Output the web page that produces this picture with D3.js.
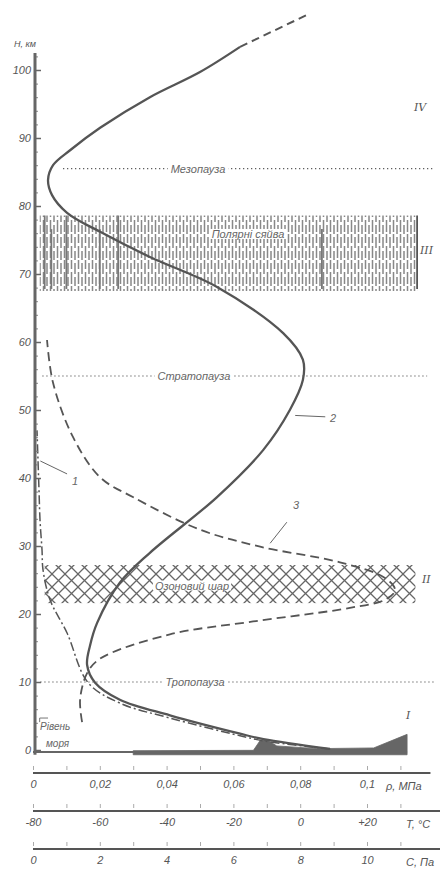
<!DOCTYPE html>
<html>
<head>
<meta charset="utf-8">
<script src="https://cdn.jsdelivr.net/npm/d3@7"></script>
<style>
  body { margin: 0; background: #fff; }
  svg text { font-family: "Liberation Sans", "DejaVu Sans", sans-serif; fill: #666; }
  .axis text { font-style: italic; font-size: 11px; fill: #555; }
</style>
</head>
<body>
<div id="viz"></div>
<script>
// height ticks, km
var kmTicks = d3.range(0, 101, 10);
// bottom scales
var pTicks = [0, 0.02, 0.04, 0.06, 0.08, 0.1],
    pLabels = ["0", "0,02", "0,04", "0,06", "0,08", "0,1"];
var tTicks = [-80, -60, -40, -20, 0, 20],
    tLabels = ["-80", "-60", "-40", "-20", "0", "+20"];
var cTicks = [0, 2, 4, 6, 8, 10],
    cLabels = ["0", "2", "4", "6", "8", "10"];

// curve 2 - temperature [T degC, H km]
var tempCurve = [[8.9,0.15],[-11,1.6],[-18,2.4],[-39,5.1],[-54,7.4],[-61.4,9.9],[-63.8,12.5],
  [-62.9,15.4],[-60.8,18.7],[-54,24.6],[-45,29],[-24.9,37.2],[-11.1,44.1],[-3.1,50],
  [0.8,54.4],[0.8,57.4],[-5.1,61.3],[-24.9,68.1],[-45,72.5],[-59.9,76.2],[-69.8,79],
  [-74.3,81.6],[-75.5,83.8],[-74,86],[-68.9,88.2],[-59.9,91.5],[-45,96],[-30,99.7],[-18,103.4]];
var tempCurveExt = [[-18,103.4],[2,108.1]];

// curve 1 - pressure [p MPa, H km]
var presCurve = [[0.089,0.15],[0.0695,1.3],[0.062,2.1],[0.041,4.7],[0.026,6.9],[0.0165,9.9],
  [0.0102,17.2],[0.0051,22.1],[0.003,26.5],[0.0027,29.4],[0.0021,33.8],[0.0018,38.2],
  [0.0015,42.6],[0.0012,47]];

// curve 3 - ozone [C, H km]
var ozoneCurve = [[1.47,4.1],[1.41,7.4],[1.62,11.3],[2.0,13.4],[4.1,17.0],[6.59,18.9],
  [9.49,20.9],[10.54,22.1],[10.84,23.5],[10.54,25.3],[9.19,27.6],[6.8,29.9],[5.0,32.4],
  [2.99,37.2],[2.01,40.1],[1.2,46],[0.6,54],[0.42,60.3]];

// layer boundaries
var pauseNames = ["Тропопауза", "Стратопауза", "Мезопауза"],
    pauseKm = [10, 55, 85.5];

// bands [from km, to km]
var auroraKm = [67.5, 78.6],
    ozoneKm = [21.6, 27.2];

// regions
var regionNames = ["I", "II", "III", "IV"],
    regionKm = [4.5, 24.5, 73, 94];

// ground profile [C-units, H km]
var groundTop = [[3.0,-0.1],[6.6,-0.05],[6.8,1.4],[7.0,1.5],[7.3,0.6],[8.5,0.2],[10.2,0.3],[11.2,2.3]];

var svg = d3.select("#viz").append("svg")
    .attr("width", 440).attr("height", 871);

var y = d3.scaleLinear().domain([0, 102.5]).range([750, 53]),
    xP = d3.scaleLinear().domain([0, 0.1]).range([33, 367]),
    xT = d3.scaleLinear().domain([-80, 20]).range([33, 367]),
    xC = d3.scaleLinear().domain([0, 10]).range([33, 367]);

// white box behind a label, placed right under it
function backing(t, padX, padY) {
  var b = t.node().getBBox();
  svg.insert("rect", function() { return t.node(); })
     .attr("x", b.x - padX).attr("y", b.y + padY)
     .attr("width", b.width + 2 * padX).attr("height", b.height - 2 * padY)
     .attr("fill", "#fff");
}

var defs = svg.append("defs");
var aur = defs.append("pattern").attr("id", "aur")
    .attr("patternUnits", "userSpaceOnUse").attr("width", 7).attr("height", 26);
aur.append("path").attr("d", "M1.5,0V9M1.5,12V24M5,3V14M5,17V26")
    .attr("stroke", "#888").attr("stroke-width", 1.5);
var oz = defs.append("pattern").attr("id", "oz")
    .attr("patternUnits", "userSpaceOnUse").attr("width", 13).attr("height", 13)
    .attr("y", 2);
oz.append("path").attr("d", "M0,0L13,13M13,0L0,13")
    .attr("stroke", "#666").attr("stroke-width", 1.3);

// aurora band
svg.append("rect")
   .attr("x", xT(-78)).attr("width", xT(35) - xT(-78))
   .attr("y", y(auroraKm[1])).attr("height", y(auroraKm[0]) - y(auroraKm[1]))
   .attr("fill", "url(#aur)");
var longLines = [-76.5, -74.5, -70, -60, -54.5, 6.5, 35];
svg.selectAll(".aurl").data(longLines).enter().append("line")
   .attr("x1", function(d) { return xT(d); }).attr("x2", function(d) { return xT(d); })
   .attr("y1", function(d, i) { return y(auroraKm[1] - (i % 2) * 2); })
   .attr("y2", y(auroraKm[0] + 0.3))
   .attr("stroke", function(d, i) { return i == longLines.length - 1 ? "#555" : "#777"; })
   .attr("stroke-width", 1.8);
var auroraLabel = svg.append("text")
   .attr("x", 248).attr("y", y(75.3)).attr("text-anchor", "middle")
   .style("font-style", "italic").style("font-size", "11px")
   .text("Полярні сяйва");
backing(auroraLabel, 2, 1);

// ozone band
svg.append("rect")
   .attr("x", xT(-76.5)).attr("width", xT(34.5) - xT(-76.5))
   .attr("y", y(ozoneKm[1])).attr("height", y(ozoneKm[0]) - y(ozoneKm[1]))
   .attr("fill", "url(#oz)");
var ozLabel = svg.append("text")
   .attr("x", 192).attr("y", y(23.6)).attr("text-anchor", "middle")
   .style("font-style", "italic").style("font-size", "11px")
   .text("Озоновий шар");
backing(ozLabel, 2, 1);

// pause lines
var pauseX = [[-77.8, 40], [-77.2, 38], [-71, 40]],
    pauseLabelX = [195, 194, 198];
pauseKm.forEach(function(k, i) {
  svg.append("line")
     .attr("x1", xT(pauseX[i][0])).attr("x2", xT(pauseX[i][1]))
     .attr("y1", y(k)).attr("y2", y(k))
     .attr("stroke", "#555").attr("stroke-width", 1.1)
     .attr("stroke-dasharray", "1.2,2.8");
  var t = svg.append("text").attr("x", pauseLabelX[i]).attr("y", y(k) + 4)
     .attr("text-anchor", "middle")
     .style("font-style", "italic").style("font-size", "11px")
     .text(pauseNames[i]);
  backing(t, 3, 0);
});

// ground
var groundPoly = groundTop.concat([[11.2, -0.7], [3.0, -0.7]]);
svg.append("path")
   .attr("d", d3.line().x(function(d) { return xC(d[0]); }).y(function(d) { return y(d[1]); })(groundPoly) + "Z")
   .attr("fill", "#666").attr("stroke", "#666").attr("stroke-width", 0.8);
svg.append("line")
   .attr("x1", xC(0)).attr("x2", xC(11.2)).attr("y1", y(-0.3)).attr("y2", y(-0.3))
   .attr("stroke", "#666").attr("stroke-width", 2);

// curves
var tLine = d3.line().curve(d3.curveCatmullRom)
    .x(function(d) { return xT(d[0]); }).y(function(d) { return y(d[1]); });
var pLine = d3.line().curve(d3.curveCatmullRom)
    .x(function(d) { return xP(d[0]); }).y(function(d) { return y(d[1]); });
var cLine = d3.line().curve(d3.curveCatmullRom)
    .x(function(d) { return xC(d[0]); }).y(function(d) { return y(d[1]); });

svg.append("path").attr("d", pLine(presCurve))
   .attr("fill", "none").attr("stroke", "#555").attr("stroke-width", 1.5)
   .attr("stroke-dasharray", "9,3,2,3");
svg.append("path").attr("d", cLine(ozoneCurve))
   .attr("fill", "none").attr("stroke", "#555").attr("stroke-width", 1.8)
   .attr("stroke-dasharray", "9,5");
svg.append("path").attr("d", tLine(tempCurve))
   .attr("fill", "none").attr("stroke", "#555").attr("stroke-width", 2.3);
svg.append("path").attr("d", tLine(tempCurveExt))
   .attr("fill", "none").attr("stroke", "#555").attr("stroke-width", 2)
   .attr("stroke-dasharray", "8,5");

// curve labels with leaders
function leader(x1, y1, x2, y2, txt, tx, ty) {
  svg.append("line").attr("x1", x1).attr("y1", y1).attr("x2", x2).attr("y2", y2)
     .attr("stroke", "#666").attr("stroke-width", 1);
  svg.append("text").attr("x", tx).attr("y", ty)
     .style("font-style", "italic").style("font-size", "11px").text(txt);
}
leader(xT(-1.5), y(49.2), xT(7.5), y(49), "2", 330, y(48.2));
leader(xC(7.1), y(30.4), xC(7.6), y(33.5), "3", 293, y(35.5));
leader(xP(0.0022), y(42.5), xP(0.0102), y(40.6), "1", 72, y(39));

// regions
regionNames.forEach(function(r, i) {
  svg.append("text").attr("x", [406, 422, 420, 414][i]).attr("y", y(regionKm[i]))
     .style("font-family", "DejaVu Serif").style("font-style", "italic")
     .style("font-size", "11px").style("fill", "#555").text(r);
});

// sea level label
svg.append("path").attr("d", "M" + (xC(0.2)) + "," + (y(4.7)) + "V" + y(4.1) + "M" + xC(0.2) + "," + y(4.7) + "H" + xC(0.45))
   .attr("stroke", "#777").attr("fill", "none");
svg.append("text").attr("x", 40).attr("y", y(2.9))
   .style("font-style", "italic").style("font-size", "10px").text("Рівень");
svg.append("text").attr("x", 46).attr("y", y(0.4))
   .style("font-style", "italic").style("font-size", "10px").text("моря");

// left axis
var yAxisG = svg.append("g").attr("class", "axis")
   .attr("transform", "translate(35,0)")
   .call(d3.axisLeft(y).tickValues(kmTicks).tickSize(0).tickPadding(4));
yAxisG.select(".domain").remove();
var yMinor = svg.append("g").attr("transform", "translate(35,0)")
   .call(d3.axisRight(y).tickValues(d3.range(0, 103, 2)).tickSize(3).tickFormat(""));
yMinor.select(".domain").remove();
yMinor.selectAll("line").attr("stroke", "#888");
var yMajor = svg.append("g").attr("transform", "translate(35,0)")
   .call(d3.axisRight(y).tickValues(kmTicks).tickSize(6).tickFormat(""));
yMajor.select(".domain").remove();
yMajor.selectAll("line").attr("stroke", "#666").attr("stroke-width", 1.5);
svg.append("line").attr("x1", 35).attr("x2", 35)
   .attr("y1", y(102.5)).attr("y2", y(-0.7))
   .attr("stroke", "#666").attr("stroke-width", 3);
svg.append("text").attr("x", 14).attr("y", 47)
   .style("font-style", "italic").style("font-size", "9px").style("fill", "#555")
   .text("H, км");

// bottom axes
function bottomAxis(scale, ticks, labels, yPos, endVal, unit, unitX) {
  var g = svg.append("g").attr("class", "axis")
     .attr("transform", "translate(0," + yPos + ")")
     .call(d3.axisBottom(scale).tickValues(ticks).tickSize(0).tickPadding(7)
           .tickFormat(function(d, i) { return labels[i]; }));
  g.select(".domain").remove();
  var step = ticks[1] - ticks[0];
  var minor = d3.range(0, 12).map(function(i) { return ticks[0] + i * step / 2; });
  var m = svg.append("g").attr("transform", "translate(0," + yPos + ")")
     .call(d3.axisBottom(scale).tickValues(minor).tickSize(-4).tickFormat(""));
  m.select(".domain").remove();
  m.selectAll("line").attr("stroke", "#aaa").attr("transform", "translate(0,-3)");
  svg.append("line").attr("x1", scale(ticks[0])).attr("x2", scale(endVal))
     .attr("y1", yPos).attr("y2", yPos)
     .attr("stroke", "#555").attr("stroke-width", 2);
  svg.append("text").attr("x", unitX).attr("y", yPos + 17)
     .style("font-style", "italic").style("font-size", "11px").style("fill", "#555")
     .text(unit);
}
bottomAxis(xP, pTicks, pLabels, 773, 0.119, "ρ, МПа", 386);
bottomAxis(xT, tTicks, tLabels, 811, 42, "T, °C", 406);
bottomAxis(xC, cTicks, cLabels, 849, 12.2, "C, Па", 406);
</script>
</body>
</html>
